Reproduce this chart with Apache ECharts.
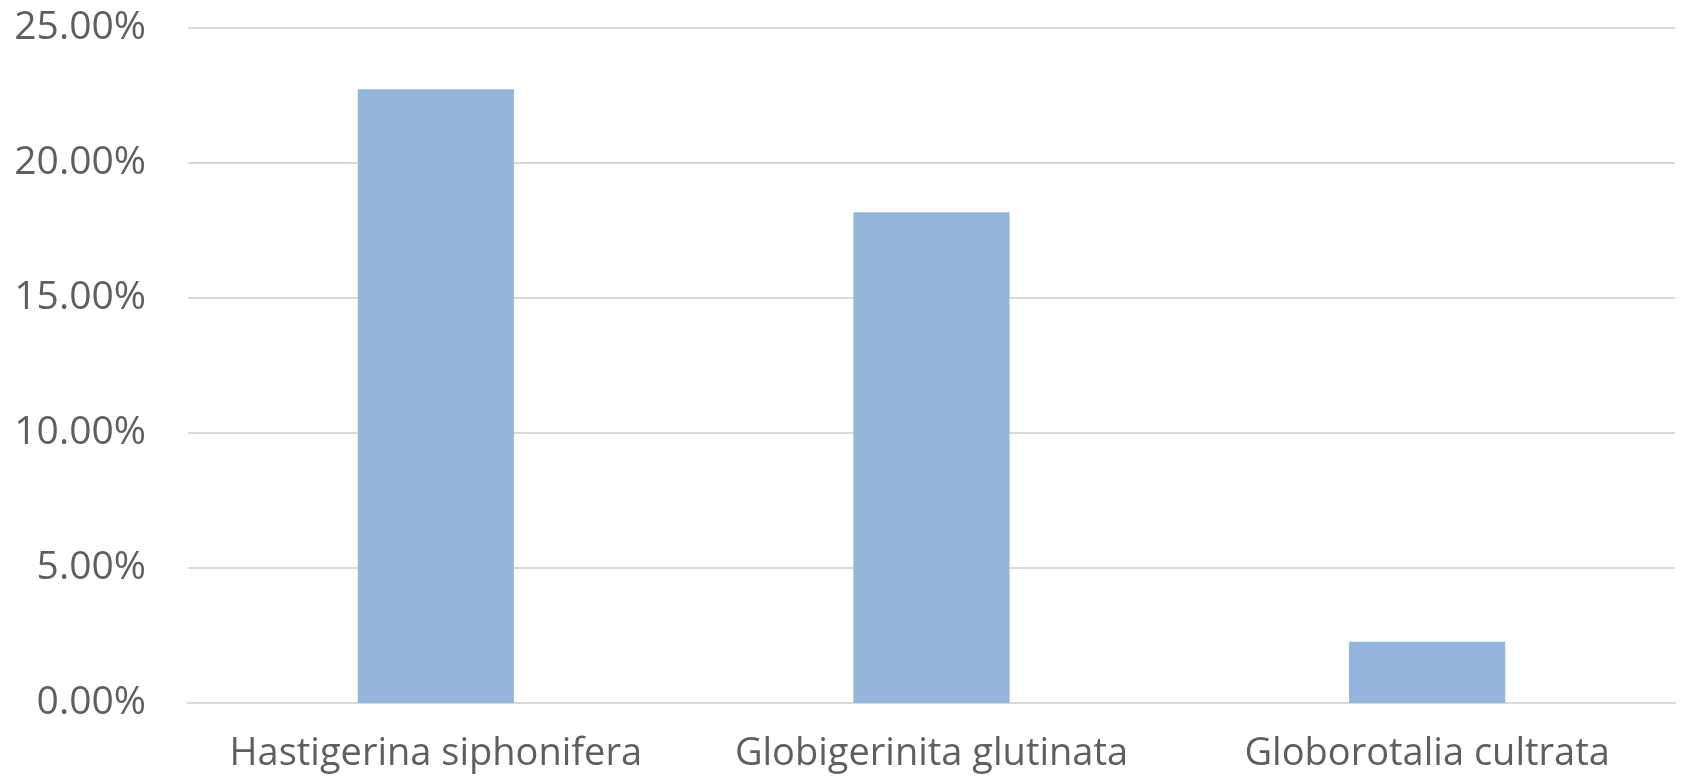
<!DOCTYPE html>
<html>
<head>
<meta charset="utf-8">
<script src="https://cdn.jsdelivr.net/npm/echarts@6/dist/echarts.min.js"></script>
<style>
html, body { margin: 0; padding: 0; background: #fff; }
#chart { width: 1682px; height: 781px; }
</style>
</head>
<body>
<div id="chart"></div>
<script>
var categories = ['Hastigerina siphonifera', 'Globigerinita glutinata', 'Globorotalia cultrata'];
var percentValues = [22.73, 18.18, 2.27];
var yTicks = [0, 5, 10, 15, 20, 25];

var dom = document.getElementById('chart');
var myChart = echarts.init(dom);

var option = {
    backgroundColor: '#ffffff',
    animation: false,
    grid: {
        left: 188,
        right: 7,
        top: 28,
        bottom: 78
    },
    xAxis: {
        type: 'category',
        data: categories,
        axisLine: { lineStyle: { color: '#d9d9d9', width: 2 } },
        axisTick: { show: false },
        axisLabel: {
            color: '#5f5f5f',
            fontFamily: 'Open Sans',
            fontSize: 38,
            margin: 32,
            interval: 0,
            hideOverlap: false
        }
    },
    yAxis: {
        type: 'value',
        min: yTicks[0],
        max: yTicks[yTicks.length - 1],
        interval: yTicks[1] - yTicks[0],
        axisLine: { show: false },
        axisTick: { show: false },
        splitLine: { lineStyle: { color: '#d9d9d9', width: 2 } },
        axisLabel: {
            color: '#5f5f5f',
            fontFamily: 'Open Sans',
            fontSize: 39,
            margin: 42,
            formatter: function (v) { return v.toFixed(2) + '%'; }
        }
    },
    series: [
        {
            type: 'bar',
            data: percentValues,
            barWidth: '31.5%',
            itemStyle: { color: '#95b4dc' }
        }
    ]
};

myChart.setOption(option, true);
</script>
</body>
</html>
